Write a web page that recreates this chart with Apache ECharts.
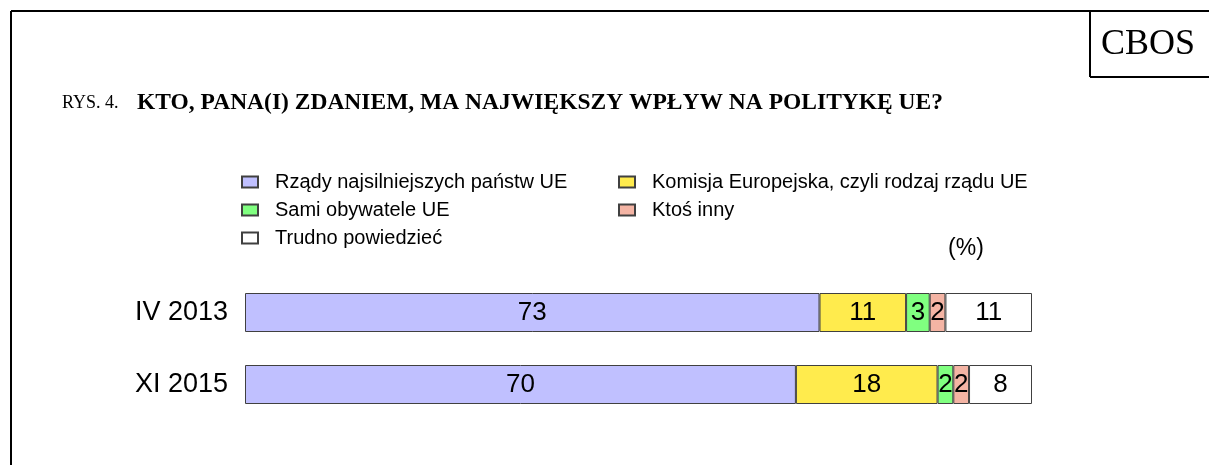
<!DOCTYPE html>
<html>
<head>
<meta charset="utf-8">
<script src="https://cdn.jsdelivr.net/npm/echarts@6/dist/echarts.min.js"></script>
<style>
  html, body { margin: 0; padding: 0; background: #fff; }
  #chart { width: 1209px; height: 465px; }
</style>
</head>
<body>
<div id="chart"></div>
<script>
var periods = ['IV 2013', 'XI 2015'];
var rzady = [73, 70];
var komisja = [11, 18];
var obywatele = [3, 2];
var ktosInny = [2, 2];
var trudno = [11, 8];

var names = [
    'Rządy najsilniejszych państw UE',
    'Komisja Europejska, czyli rodzaj rządu UE',
    'Sami obywatele UE',
    'Ktoś inny',
    'Trudno powiedzieć'
];
var colors = ['#C0C0FF', '#FFEB4D', '#80FF80', '#F4B4A4', '#FFFFFF'];
var values = [rzady, komisja, obywatele, ktosInny, trudno];

var chart = echarts.init(document.getElementById('chart'));

var series = names.map(function (name, i) {
    return {
        name: name,
        type: 'bar',
        stack: 'all',
        barWidth: 39,
        data: values[i],
        itemStyle: {
            color: colors[i],
            borderColor: '#404040',
            borderWidth: 1
        },
        label: {
            show: true,
            position: 'inside',
            color: '#000',
            fontFamily: 'Liberation Sans, Arial',
            fontSize: 26
        }
    };
});

var legendText = {
    fontFamily: 'Liberation Sans, Arial',
    fontSize: 20,
    color: '#000',
    padding: [0, 0, 0, 12]
};

chart.setOption({
    animation: false,
    title: {
        text: '{a|RYS. 4.}{b|KTO, PANA(I) ZDANIEM, MA NAJWIĘKSZY WPŁYW NA POLITYKĘ UE?}',
        left: 57,
        top: 86,
        textStyle: {
            rich: {
                a: { fontFamily: 'Liberation Serif, Times New Roman', fontSize: 18, fontWeight: 'normal', color: '#000', width: 75 },
                b: { fontFamily: 'Liberation Serif, Times New Roman', fontSize: 23.5, fontWeight: 'bold', color: '#000' }
            }
        }
    },
    legend: [{
        orient: 'vertical',
        left: 236,
        top: 167,
        itemWidth: 16,
        itemHeight: 11,
        itemGap: 8,
        icon: 'rect',
        data: [names[0], names[2], names[4]],
        textStyle: legendText,
        selectedMode: false
    }, {
        orient: 'vertical',
        left: 613,
        top: 167,
        itemWidth: 16,
        itemHeight: 11,
        itemGap: 8,
        icon: 'rect',
        data: [names[1], names[3]],
        textStyle: legendText,
        selectedMode: false
    }],
    grid: {
        left: 245,
        right: 177,
        top: 276.5,
        height: 144
    },
    xAxis: {
        type: 'value',
        min: 0,
        max: 100,
        show: false
    },
    yAxis: {
        type: 'category',
        inverse: true,
        data: periods,
        axisLine: { show: false },
        axisTick: { show: false },
        axisLabel: {
            margin: 17,
            color: '#000',
            fontFamily: 'Liberation Sans, Arial',
            fontSize: 27
        }
    },
    series: series,
    graphic: [
        { type: 'line', shape: { x1: 11, y1: 11, x2: 1209, y2: 11 }, style: { stroke: '#000', lineWidth: 2 } },
        { type: 'line', shape: { x1: 11, y1: 11, x2: 11, y2: 465 }, style: { stroke: '#000', lineWidth: 2 } },
        { type: 'line', shape: { x1: 1090, y1: 11, x2: 1090, y2: 77 }, style: { stroke: '#000', lineWidth: 2 } },
        { type: 'line', shape: { x1: 1090, y1: 77, x2: 1209, y2: 77 }, style: { stroke: '#000', lineWidth: 2 } },
        {
            type: 'text', x: 1148, y: 45,
            style: { text: 'CBOS', fontFamily: 'Liberation Serif, Times New Roman', fontSize: 36, fill: '#000', align: 'center', verticalAlign: 'middle' }
        },
        {
            type: 'text', x: 966, y: 249,
            style: { text: '(%)', fontFamily: 'Liberation Sans, Arial', fontSize: 23, fill: '#000', align: 'center', verticalAlign: 'middle' }
        }
    ]
});
</script>
</body>
</html>
